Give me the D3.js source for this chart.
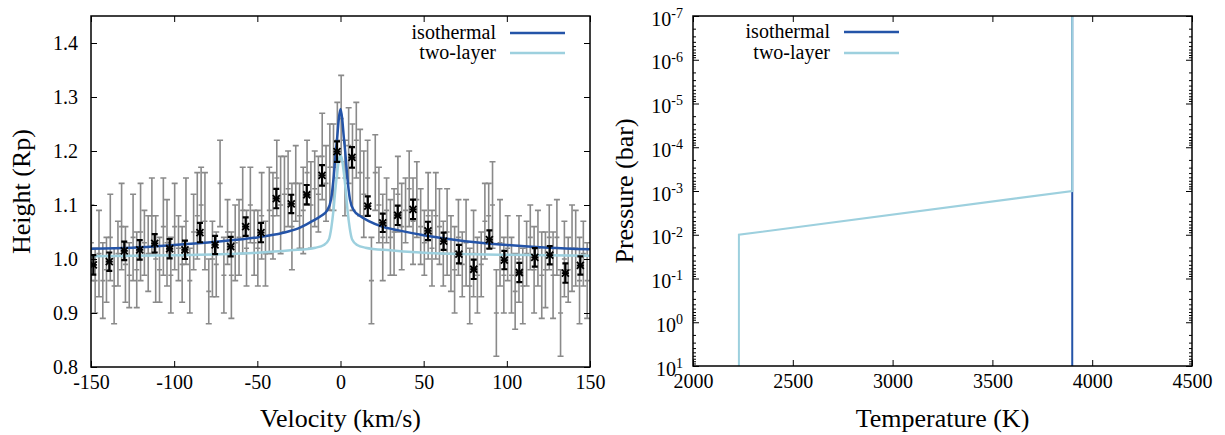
<!DOCTYPE html>
<html>
<head>
<meta charset="utf-8">
<script src="https://cdn.jsdelivr.net/npm/d3@7"></script>
<style>
    body { margin: 0; background: #fff; }
    svg, svg text { font-family: "Liberation Serif", Tinos, "Times New Roman", Times, "DejaVu Serif", serif; fill: #000; }
</style>
</head>
<body>
<div id="chart"></div>
<script>
// ---------------------------------------------------------------------------
// Left panel data: observed heights (grey), binned heights (black), models.
// ---------------------------------------------------------------------------
const greyVel = [
    -149.8, -147.5, -145.2, -142.9,   -140.7, -138.4, -136.1, -133.8,
    -131.6, -129.3, -127.0, -124.7,   -122.5, -120.2, -117.9, -115.6,
    -113.4, -111.1, -108.8, -106.5,   -104.3, -102.0,  -99.7,  -97.4,
     -95.2,  -92.9,  -90.6,  -88.3,    -86.1,  -83.8,  -81.5,  -79.2,
     -77.0,  -74.7,  -72.4,  -70.1,    -67.9,  -65.6,  -63.3,  -61.0,
     -58.8,  -56.5,  -54.2,  -51.9,    -49.7,  -47.4,  -45.1,  -42.8,
     -40.6,  -38.3,  -36.0,  -33.7,    -31.5,  -29.2,  -26.9,  -24.6,
     -22.4,  -20.1,  -17.8,  -15.5,    -13.3,  -11.0,   -8.7,   -6.4,
      -4.2,   -1.9,    0.4,    2.7,      4.9,    7.2,    9.5,   11.8,
      14.0,   16.3,   18.6,   20.9,     23.1,   25.4,   27.7,   30.0,
      32.2,   34.5,   36.8,   39.1,     41.3,   43.6,   45.9,   48.2,
      50.4,   52.7,   55.0,   57.3,     59.5,   61.8,   64.1,   66.4,
      68.6,   70.9,   73.2,   75.5,     77.7,   80.0,   82.3,   84.6,
      86.8,   89.1,   91.4,   93.7,     95.9,   98.2,  100.5,  102.8,
     105.0,  107.3,  109.6,  111.9,    114.1,  116.4,  118.7,  121.0,
     123.2,  125.5,  127.8,  130.1,    132.3,  134.6,  136.9,  139.2,
     141.4,  143.7,  146.0,  148.3
];
const greyHeight = [
    1.03, 0.96, 1.01, 0.96,   0.98, 1.04, 0.95, 1.01,
    1.06, 0.99, 0.97, 1.04,   0.98, 1.05, 1.03, 1.01,
    1.08, 1.00, 0.98, 1.06,   1.03, 0.97, 1.06, 1.02,
    0.99, 1.07, 0.96, 1.05,   1.08, 1.10, 1.07, 0.94,
    1.00, 0.99, 1.14, 0.97,   1.05, 0.97, 1.03, 1.04,
    1.09, 1.02, 1.10, 1.03,   1.02, 1.08, 1.01, 1.09,
    1.08, 1.15, 1.10, 1.12,   1.13, 1.06, 1.14, 1.08,
    1.09, 1.16, 1.10, 1.13,   1.12, 1.19, 1.14, 1.17,
    1.17, 1.22, 1.26, 1.15,   1.21, 1.17, 1.22, 1.16,
    1.12, 1.15, 0.96, 1.16,   1.10, 1.04, 1.09, 1.04,
    1.05, 1.12, 1.06, 1.09,   1.13, 1.07, 1.11, 1.06,
    1.03, 1.08, 1.02, 1.08,   1.06, 1.01, 1.05, 1.01,
    0.98, 1.04, 0.99, 1.03,   0.95, 1.01, 0.97, 0.99,
    1.07, 1.08, 1.10, 0.90,   1.03, 0.97, 1.02, 0.97,
    0.94, 1.00, 0.95, 1.01,   1.04, 0.98, 1.02, 0.97,
    0.98, 1.04, 0.97, 1.04,   0.90, 1.00, 0.98, 1.02,
    1.02, 0.96, 1.01, 0.96
];
const greyErr = [
    0.07, 0.06, 0.08, 0.07,   0.06, 0.08, 0.07, 0.06,
    0.08, 0.07, 0.06, 0.08,   0.07, 0.09, 0.06, 0.07,
    0.07, 0.08, 0.06, 0.09,   0.08, 0.07, 0.08, 0.06,
    0.07, 0.08, 0.06, 0.07,   0.08, 0.07, 0.09, 0.06,
    0.07, 0.06, 0.08, 0.07,   0.06, 0.08, 0.07, 0.07,
    0.08, 0.07, 0.07, 0.06,   0.07, 0.08, 0.06, 0.08,
    0.08, 0.07, 0.09, 0.07,   0.07, 0.08, 0.07, 0.06,
    0.08, 0.06, 0.08, 0.07,   0.07, 0.08, 0.07, 0.08,
    0.08, 0.07, 0.08, 0.07,   0.07, 0.08, 0.07, 0.08,
    0.08, 0.07, 0.08, 0.07,   0.07, 0.08, 0.06, 0.07,
    0.08, 0.07, 0.08, 0.06,   0.07, 0.08, 0.07, 0.07,
    0.06, 0.08, 0.07, 0.08,   0.07, 0.06, 0.08, 0.07,
    0.08, 0.07, 0.06, 0.08,   0.07, 0.08, 0.07, 0.06,
    0.07, 0.06, 0.08, 0.08,   0.08, 0.07, 0.06, 0.07,
    0.07, 0.08, 0.07, 0.06,   0.06, 0.08, 0.07, 0.08,
    0.07, 0.06, 0.08, 0.07,   0.08, 0.07, 0.06, 0.08,
    0.07, 0.08, 0.06, 0.07
];

const binVel = [
    -148.6, -139.0, -130.0, -120.7, -111.7, -102.7, -93.5, -84.5, -75.4, -66.0, -57.0,
    -47.8, -38.6, -29.6, -20.3, -11.1, -2.1, 6.9, 16.4, 25.4, 34.4, 43.6,
    52.6, 62.0, 71.2, 80.1, 89.5, 98.5, 107.5, 116.8, 125.8, 135.2, 144.2
];
const binHeight = [
    0.989, 0.995, 1.015, 1.017, 1.029, 1.019, 1.017, 1.049, 1.026, 1.023, 1.060,
    1.049, 1.112, 1.102, 1.119, 1.155, 1.199, 1.188, 1.098, 1.067, 1.081, 1.092,
    1.052, 1.033, 1.009, 0.981, 1.036, 0.998, 0.975, 1.003, 1.007, 0.974, 0.988
];
const binErr = [
    0.018, 0.017, 0.017, 0.018, 0.017, 0.018, 0.017, 0.018, 0.017, 0.018, 0.017,
    0.018, 0.018, 0.017, 0.018, 0.019, 0.019, 0.019, 0.018, 0.017, 0.018, 0.018,
    0.017, 0.016, 0.017, 0.018, 0.017, 0.017, 0.018, 0.017, 0.017, 0.018, 0.017
];

const isoVel = [-150, -125, -100, -75, -50, -35, -25, -17, -12, -8, -5.7, -4, -2.8, -2, -1, 0,
                1, 2, 2.8, 4, 5.7, 8, 12, 17, 25, 35, 50, 75, 100, 125, 150];
const isoHeight = [1.019, 1.021, 1.026, 1.032, 1.040, 1.048, 1.057, 1.070, 1.079, 1.090, 1.110, 1.155,
                   1.200, 1.225, 1.260, 1.278, 1.260, 1.225, 1.200, 1.155, 1.110, 1.090, 1.079, 1.070,
                   1.060, 1.053, 1.044, 1.033, 1.026, 1.021, 1.018];

const twoVel = [-150, -100, -60, -30, -15, -10, -7, -5.5, -4.3, -3.2, -2, -1, 0,
                1, 2, 3.2, 4.3, 5.5, 7, 10, 15, 30, 60, 100, 150];
const twoHeight = [1.005, 1.007, 1.010, 1.016, 1.021, 1.026, 1.036, 1.058, 1.088, 1.125, 1.160, 1.183, 1.192,
                   1.183, 1.160, 1.125, 1.088, 1.058, 1.036, 1.026, 1.021, 1.016, 1.010, 1.008, 1.006];

const velTicks = [-150, -100, -50, 0, 50, 100, 150];
const heightTicks = [0.8, 0.9, 1.0, 1.1, 1.2, 1.3, 1.4];

// ---------------------------------------------------------------------------
// Right panel data: temperature-pressure profiles.
// ---------------------------------------------------------------------------
const isoTemp = [3900, 3900];
const isoPres = [1e-7, 1e1];
const twoTemp = [3900, 3900, 2230, 2230];
const twoPres = [1e-7, 1e-3, 1e-2, 1e1];

const tempTicks = [2000, 2500, 3000, 3500, 4000, 4500];
const presTicks = [1e-7, 1e-6, 1e-5, 1e-4, 1e-3, 1e-2, 1e-1, 1e0, 1e1];

const seriesNames = ["isothermal", "two-layer"];
const seriesColors = ["#2454a8", "#9dd0de"];

// ---------------------------------------------------------------------------
// Canvas and scales.
// ---------------------------------------------------------------------------
const width = 1225, height = 435;
const tick = 6, minorTick = 3;
const serif = "'Liberation Serif', Tinos, 'Times New Roman', Times, 'DejaVu Serif', serif";

const svg = d3.select("#chart").append("svg")
    .attr("width", width)
    .attr("height", height)
    .attr("font-family", serif);

const L = {x0: 91, x1: 590, y0: 16, y1: 367};
const R = {x0: 693, x1: 1192, y0: 16, y1: 366};

const xVel = d3.scaleLinear().domain([-150, 150]).range([L.x0, L.x1]);
const yHgt = d3.scaleLinear().domain([0.8, 1.45]).range([L.y1, L.y0]);
const xTmp = d3.scaleLinear().domain([2000, 4500]).range([R.x0, R.x1]);
const yPrs = d3.scaleLog().domain([1e-7, 1e1]).range([R.y0, R.y1]);

// Clip paths so the data stays inside the frames.
const defs = svg.append("defs");
defs.append("clipPath").attr("id", "clipL").append("rect")
    .attr("x", L.x0).attr("y", L.y0).attr("width", L.x1 - L.x0).attr("height", L.y1 - L.y0);
defs.append("clipPath").attr("id", "clipR").append("rect")
    .attr("x", R.x0).attr("y", R.y0).attr("width", R.x1 - R.x0).attr("height", R.y1 - R.y0);

// Gnuplot-like axes: ticks pointing inward on all four sides.
function styleAxis(g, size) {
    g.attr("font-family", serif).attr("font-size", size);
    g.select(".domain").remove();
    g.selectAll(".tick line").attr("stroke", "#000").attr("stroke-width", 1);
}

function frame(p) {
    svg.append("rect")
        .attr("x", p.x0).attr("y", p.y0)
        .attr("width", p.x1 - p.x0).attr("height", p.y1 - p.y0)
        .attr("fill", "none").attr("stroke", "#000").attr("stroke-width", 1.5);
}

const plain = d => String(d);

/* -------------------------------------------------------------------------
 * Left panel
 * ---------------------------------------------------------------------- */

const gl = svg.append("g").attr("clip-path", "url(#clipL)");

// Grey individual points with error bars.
const grey = d3.range(greyVel.length).map(i => ({v: greyVel[i], h: greyHeight[i], e: greyErr[i]}));
const gGrey = gl.append("g").attr("stroke", "#8a8a8a").attr("stroke-width", 1.6).attr("fill", "none");
grey.forEach(d => {
    const x = xVel(d.v), ylo = yHgt(d.h - d.e), yhi = yHgt(d.h + d.e), y = yHgt(d.h);
    const p = d3.path();
    p.moveTo(x, ylo); p.lineTo(x, yhi);
    p.moveTo(x - 3, ylo); p.lineTo(x + 3, ylo);
    p.moveTo(x - 3, yhi); p.lineTo(x + 3, yhi);
    p.moveTo(x - 2.5, y); p.lineTo(x + 2.5, y);
    gGrey.append("path").attr("d", p.toString());
});

// Model curves.
const velLine = d3.line()
    .x(d => xVel(d[0]))
    .y(d => yHgt(d[1]))
    .curve(d3.curveMonotoneX);

gl.append("path")
    .datum(d3.zip(isoVel, isoHeight))
    .attr("d", velLine)
    .attr("fill", "none").attr("stroke", seriesColors[0]).attr("stroke-width", 2.5);

gl.append("path")
    .datum(d3.zip(twoVel, twoHeight))
    .attr("d", velLine)
    .attr("fill", "none").attr("stroke", seriesColors[1]).attr("stroke-width", 2.5);

// Black binned points.
const gBin = gl.append("g").attr("stroke", "#000").attr("fill", "none");
binVel.forEach((v, i) => {
    const x = xVel(v), y = yHgt(binHeight[i]);
    const ylo = yHgt(binHeight[i] - binErr[i]), yhi = yHgt(binHeight[i] + binErr[i]);
    const p = d3.path();
    p.moveTo(x, ylo); p.lineTo(x, yhi);
    p.moveTo(x - 3, ylo); p.lineTo(x + 3, ylo);
    p.moveTo(x - 3, yhi); p.lineTo(x + 3, yhi);
    gBin.append("path").attr("d", p.toString()).attr("stroke-width", 2.2);
    const s = d3.path(), r = 3.5;
    s.moveTo(x - r, y - r); s.lineTo(x + r, y + r);
    s.moveTo(x - r, y + r); s.lineTo(x + r, y - r);
    s.moveTo(x - r, y); s.lineTo(x + r, y);
    gBin.append("path").attr("d", s.toString()).attr("stroke-width", 1.8);
});

// Axes.
svg.append("g").attr("transform", `translate(0,${L.y1})`)
    .call(d3.axisBottom(xVel).tickValues(velTicks).tickFormat(plain)
        .tickSizeInner(-tick).tickSizeOuter(0).tickPadding(8))
    .call(g => styleAxis(g, 20));
svg.append("g").attr("transform", `translate(0,${L.y0})`)
    .call(d3.axisTop(xVel).tickValues(velTicks).tickFormat("").tickSizeInner(-tick).tickSizeOuter(0))
    .call(g => styleAxis(g, 20));
svg.append("g").attr("transform", `translate(${L.x0},0)`)
    .call(d3.axisLeft(yHgt).tickValues(heightTicks).tickFormat(d3.format(".1f"))
        .tickSizeInner(-tick).tickSizeOuter(0).tickPadding(13))
    .call(g => styleAxis(g, 20));
svg.append("g").attr("transform", `translate(${L.x1},0)`)
    .call(d3.axisRight(yHgt).tickValues(heightTicks).tickFormat("").tickSizeInner(-tick).tickSizeOuter(0))
    .call(g => styleAxis(g, 20));
frame(L);

svg.append("text")
    .attr("x", (L.x0 + L.x1) / 2).attr("y", 427)
    .attr("text-anchor", "middle").attr("font-size", 26)
    .text("Velocity (km/s)");
svg.append("text")
    .attr("transform", `translate(30,${(L.y0 + L.y1) / 2}) rotate(-90)`)
    .attr("text-anchor", "middle").attr("font-size", 26)
    .text("Height (Rp)");

/* -------------------------------------------------------------------------
 * Right panel
 * ---------------------------------------------------------------------- */

const gr = svg.append("g").attr("clip-path", "url(#clipR)");
const presLine = d3.line()
    .x(d => xTmp(d[0]))
    .y(d => yPrs(d[1]));

gr.append("path")
    .datum(d3.zip(isoTemp, isoPres))
    .attr("d", presLine)
    .attr("fill", "none").attr("stroke", seriesColors[0]).attr("stroke-width", 2);
gr.append("path")
    .datum(d3.zip(twoTemp, twoPres))
    .attr("d", presLine)
    .attr("fill", "none").attr("stroke", seriesColors[1]).attr("stroke-width", 2);

svg.append("g").attr("transform", `translate(0,${R.y1})`)
    .call(d3.axisBottom(xTmp).tickValues(tempTicks).tickFormat(plain)
        .tickSizeInner(-tick).tickSizeOuter(0).tickPadding(8))
    .call(g => styleAxis(g, 20));
svg.append("g").attr("transform", `translate(0,${R.y0})`)
    .call(d3.axisTop(xTmp).tickValues(tempTicks).tickFormat("").tickSizeInner(-tick).tickSizeOuter(0))
    .call(g => styleAxis(g, 20));

// Log axis: 10 with a raised exponent.
svg.append("g").attr("transform", `translate(${R.x0},0)`)
    .call(d3.axisLeft(yPrs).tickValues(presTicks).tickFormat("").tickSizeInner(-tick).tickSizeOuter(0).tickPadding(10))
    .call(g => styleAxis(g, 20))
    .call(g => g.selectAll(".tick text").each(function(d) {
        const t = d3.select(this).attr("dy", "0.45em");
        t.append("tspan").text("10");
        t.append("tspan").attr("dy", "-0.55em").attr("font-size", 14)
            .text(plain(Math.round(Math.log10(d))));
    }));
svg.append("g").attr("transform", `translate(${R.x1},0)`)
    .call(d3.axisRight(yPrs).tickValues(presTicks).tickFormat("").tickSizeInner(-tick).tickSizeOuter(0))
    .call(g => styleAxis(g, 20));

// Minor ticks (2..9 of each decade) on both vertical sides.
const minor = yPrs.ticks().filter(d => Math.abs(Math.log10(d) - Math.round(Math.log10(d))) > 1e-6);
const gMinor = svg.append("g").attr("stroke", "#000").attr("stroke-width", 1);
minor.forEach(d => {
    const y = yPrs(d);
    gMinor.append("line").attr("x1", R.x0).attr("x2", R.x0 + minorTick).attr("y1", y).attr("y2", y);
    gMinor.append("line").attr("x1", R.x1).attr("x2", R.x1 - minorTick).attr("y1", y).attr("y2", y);
});
frame(R);

svg.append("text")
    .attr("x", (R.x0 + R.x1) / 2).attr("y", 427)
    .attr("text-anchor", "middle").attr("font-size", 26)
    .text("Temperature (K)");
svg.append("text")
    .attr("transform", `translate(633,${(R.y0 + R.y1) / 2}) rotate(-90)`)
    .attr("text-anchor", "middle").attr("font-size", 26)
    .text("Pressure (bar)");

/* -------------------------------------------------------------------------
 * Legends
 * ---------------------------------------------------------------------- */

function legend(textRight, lineX0, lineX1, rows) {
    seriesNames.forEach((name, i) => {
        const y = rows[i];
        svg.append("text")
            .attr("x", textRight).attr("y", y).attr("dy", "0.32em")
            .attr("text-anchor", "end").attr("font-size", 20)
            .text(name);
        svg.append("line")
            .attr("x1", lineX0).attr("x2", lineX1).attr("y1", y).attr("y2", y)
            .attr("stroke", seriesColors[i]).attr("stroke-width", 2.5);
    });
}
legend(496, 510, 565, [33, 53]);
legend(830, 844, 899, [32, 53]);
</script>
</body>
</html>
